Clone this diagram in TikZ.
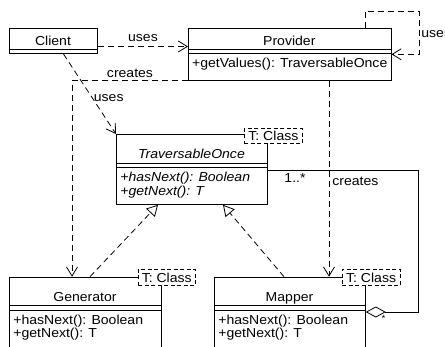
\documentclass[tikz,border=0pt]{standalone}
\usepackage{fontspec}
\setmainfont[FakeStretch=1.08]{Liberation Sans}
\usetikzlibrary{arrows.meta,calc}
\begin{document}
\begin{tikzpicture}[x=1pt,y=-1pt,
  font=\fontsize{13}{15}\selectfont,
  line width=0.8pt,
  classbox/.style={draw, fill=white, inner sep=0pt, anchor=north west},
  deparrow/.style={dash pattern=on 6pt off 4pt, -{Straight Barb[length=9pt,width=11pt,line width=0.8pt]}},
  realarrow/.style={dash pattern=on 6pt off 4pt, -{Triangle[open,length=11pt,width=12pt,line width=0.8pt]}},
  aggline/.style={-{Diamond[open,length=20pt,width=11pt,line width=0.8pt]}},
  tmplbox/.style={draw, fill=white, dash pattern=on 4pt off 2.5pt, inner sep=0pt, anchor=north west},
  lbl/.style={inner sep=0pt, anchor=base},
  lblw/.style={inner sep=0pt, anchor=base west}]
\useasboundingbox (0,0) rectangle (445,346);
\clip (0,0) rectangle (445,346);
\fill[white] (0,0) rectangle (445,346);

% ---- class boxes
\node[classbox, minimum width=88pt, minimum height=25pt] (client) at (9,28.3) {};
\draw (client.west |- 0,49.3) -- (client.east |- 0,49.3);
\node[lbl] (clientname) at (53,45) {Client};

\node[classbox, minimum width=202.7pt, minimum height=51.7pt] (prov) at (188,28.3) {};
\draw (prov.west |- 0,49) -- (prov.east |- 0,49);
\draw (prov.west |- 0,53.3) -- (prov.east |- 0,53.3);
\node[lbl] (provname) at (289.3,45.5) {Provider};
\node[lblw] (provop) at (191.7,67.5) {+getValues(): TraversableOnce};

\node[classbox, minimum width=151pt, minimum height=70pt] (trav) at (116,134) {};
\draw (trav.west |- 0,163.3) -- (trav.east |- 0,163.3);
\draw (trav.west |- 0,167.7) -- (trav.east |- 0,167.7);
\node[lbl, font=\fontsize{13}{15}\selectfont\itshape] (travname) at (191.5,158.3) {TraversableOnce};
\node[lblw, font=\fontsize{13}{15}\selectfont\itshape] (travop1) at (120,181) {+hasNext(): Boolean};
\node[lblw, font=\fontsize{13}{15}\selectfont\itshape] (travop2) at (120,195) {+getNext(): T};

\node[classbox, minimum width=152pt, minimum height=90pt] (gen) at (9,276.7) {};
\draw (gen.west |- 0,305.7) -- (gen.east |- 0,305.7);
\draw (gen.west |- 0,310.3) -- (gen.east |- 0,310.3);
\node[lbl] (genname) at (85,301.7) {Generator};
\node[lblw] (genop1) at (13,324) {+hasNext(): Boolean};
\node[lblw] (genop2) at (13,337.7) {+getNext(): T};

\node[classbox, minimum width=151pt, minimum height=90pt] (map) at (214,276.7) {};
\draw (map.west |- 0,305.7) -- (map.east |- 0,305.7);
\draw (map.west |- 0,310.3) -- (map.east |- 0,310.3);
\node[lbl] (mapname) at (289.5,301.7) {Mapper};
\node[lblw] (mapop1) at (218,324) {+hasNext(): Boolean};
\node[lblw] (mapop2) at (218,337.7) {+getNext(): T};

% ---- template parameter boxes
\node[tmplbox, minimum width=58pt, minimum height=15pt] (travT) at (244,128.3) {T: Class};
\node[tmplbox, minimum width=57.3pt, minimum height=16pt] (genT) at (137.7,269) {T: Class};
\node[tmplbox, minimum width=58pt, minimum height=16pt] (mapT) at (341.7,269) {T: Class};

% ---- connectors
\coordinate (cpY) at (0,46.5);
\draw[deparrow] (client.east |- cpY) -- (prov.west |- cpY);
\node[lbl] (usesA) at (143,41.5) {uses};

\coordinate (loopTop) at (419,11);
\coordinate (loopX) at (365,0);
\coordinate (loopY) at (0,54.3);
\draw[deparrow] (prov.north -| loopX) |- (loopTop) |- (prov.east |- loopY);
\node[lblw] (usesB) at (421,37.5) {uses};

\draw[deparrow] ($(client.south west)!0.614!(client.south east)$) -- (trav.north west);
\node[lblw] (usesC) at (93.5,101.5) {uses};

\coordinate (genX) at (72,0);
\draw[deparrow] (prov.south west) -| (gen.north -| genX);
\node[lbl] (createsA) at (130,77) {creates};

\coordinate (mapX) at (329,0);
\draw[deparrow] (prov.south -| mapX) -- (map.north -| mapX);
\node[lblw] (createsB) at (332,185.5) {creates};

\coordinate (aggY) at (0,170.7);
\coordinate (aggCorner) at (418,312);
\draw[aggline] (trav.east |- aggY) -| (aggCorner) -- (map.east |- aggCorner);
\node[lbl] (multA) at (295,182) {1..*};
\node[lbl, font=\fontsize{9}{10}\selectfont] (multB) at (383.5,321) {*};

\coordinate (genR) at (90,0);
\coordinate (travR1) at (158,0);
\draw[realarrow] (gen.north -| genR) -- (trav.south -| travR1);
\coordinate (mapR) at (284,0);
\coordinate (travR2) at (223,0);
\draw[realarrow] (map.north -| mapR) -- (trav.south -| travR2);
\end{tikzpicture}
\end{document}
